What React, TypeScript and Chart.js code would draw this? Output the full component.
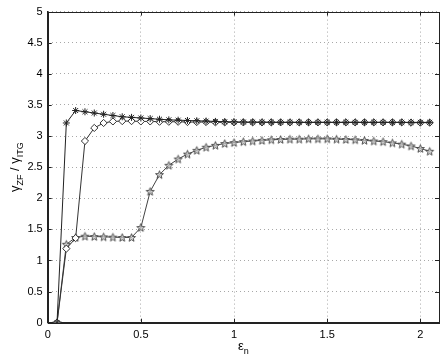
import React, { useEffect, useRef } from "react";
import { Chart, registerables } from "chart.js";

Chart.register(...registerables);

const epsN = [
  0.05, 0.1, 0.15, 0.2, 0.25, 0.3, 0.35, 0.4, 0.45, 0.5,
  0.55, 0.6, 0.65, 0.7, 0.75, 0.8, 0.85, 0.9, 0.95, 1.0,
  1.05, 1.1, 1.15, 1.2, 1.25, 1.3, 1.35, 1.4, 1.45, 1.5,
  1.55, 1.6, 1.65, 1.7, 1.75, 1.8, 1.85, 1.9, 1.95, 2.0,
  2.05,
];

const seriesAsterisk = [
  0, 3.21, 3.41, 3.39, 3.37, 3.35, 3.33, 3.31, 3.3, 3.29,
  3.28, 3.27, 3.26, 3.255, 3.25, 3.245, 3.24, 3.235, 3.23, 3.228,
  3.225, 3.224, 3.223, 3.222, 3.221, 3.22, 3.22, 3.22, 3.22, 3.22,
  3.22, 3.22, 3.22, 3.22, 3.22, 3.22, 3.22, 3.22, 3.22, 3.22,
  3.22,
];

const seriesDiamond = [
  0, 1.19, 1.36, 2.92, 3.13, 3.21, 3.235, 3.24, 3.24, 3.235,
  3.235, 3.23, 3.23, 3.23, 3.225, 3.225, 3.225, 3.22, 3.22, 3.22,
  3.22, 3.22, 3.22, 3.22, 3.22, 3.22, 3.22, 3.22, 3.22, 3.22,
  3.22, 3.22, 3.22, 3.22, 3.22, 3.22, 3.22, 3.22, 3.215, 3.215,
  3.215,
];

const seriesPentagram = [
  0, 1.26, 1.37, 1.39, 1.385, 1.38, 1.375, 1.37, 1.37, 1.53,
  2.11, 2.38, 2.53, 2.63, 2.71, 2.77, 2.82, 2.85, 2.88, 2.895,
  2.91, 2.92, 2.93, 2.94, 2.945, 2.95, 2.95, 2.955, 2.955, 2.955,
  2.95, 2.945, 2.94, 2.93, 2.92, 2.91, 2.89, 2.87, 2.84, 2.8,
  2.755,
];

const xTicks = [0, 0.5, 1, 1.5, 2];
const yTicks = [0, 0.5, 1, 1.5, 2, 2.5, 3, 3.5, 4, 4.5, 5];

const FONT = "'Liberation Sans', Arial, sans-serif";

function makePentagram(): HTMLCanvasElement {
  const c = document.createElement("canvas");
  const s = 11;
  c.width = s;
  c.height = s;
  const ctx = c.getContext("2d")!;
  const cx = s / 2, cy = s / 2 + 0.4;
  const R = 4.2, r = 1.8;
  ctx.beginPath();
  for (let i = 0; i < 10; i++) {
    const rad = i % 2 === 0 ? R : r;
    const a = -Math.PI / 2 + (i * Math.PI) / 5;
    const px = cx + rad * Math.cos(a);
    const py = cy + rad * Math.sin(a);
    if (i === 0) ctx.moveTo(px, py);
    else ctx.lineTo(px, py);
  }
  ctx.closePath();
  ctx.fillStyle = "rgba(200,200,200,0.7)";
  ctx.fill();
  ctx.strokeStyle = "#444";
  ctx.lineWidth = 0.9;
  ctx.stroke();
  return c;
}

const boxPlugin = {
  id: "matlabBox",
  afterDraw(chart: any) {
    const { ctx, chartArea } = chart;
    const { left, right, top, bottom } = chartArea;
    const xs = chart.scales.x;
    const ys = chart.scales.y;
    ctx.save();
    ctx.strokeStyle = "#222";
    ctx.lineWidth = 1;
    ctx.strokeRect(Math.round(left) + 0.5, Math.round(top) + 0.5, Math.round(right - left), Math.round(bottom - top));
    const tl = 4;
    ctx.beginPath();
    for (const v of xTicks) {
      const px = Math.round(xs.getPixelForValue(v)) + 0.5;
      ctx.moveTo(px, bottom);
      ctx.lineTo(px, bottom - tl);
      ctx.moveTo(px, top);
      ctx.lineTo(px, top + tl);
    }
    for (const v of yTicks) {
      const py = Math.round(ys.getPixelForValue(v)) + 0.5;
      ctx.moveTo(left, py);
      ctx.lineTo(left + tl, py);
      ctx.moveTo(right, py);
      ctx.lineTo(right - tl, py);
    }
    ctx.stroke();

    ctx.fillStyle = "#000";
    ctx.textBaseline = "alphabetic";
    const mainF = "13px " + FONT;
    const subF = "9px " + FONT;
    const drawParts = (parts: [string, boolean][], cx: number, cy: number) => {
      let total = 0;
      for (const [t, sub] of parts) {
        ctx.font = sub ? subF : mainF;
        total += ctx.measureText(t).width;
      }
      let x = cx - total / 2;
      for (const [t, sub] of parts) {
        ctx.font = sub ? subF : mainF;
        ctx.fillText(t, x, sub ? cy + 4 : cy);
        x += ctx.measureText(t).width;
      }
    };
    ctx.save();
    ctx.translate(19, (top + bottom) / 2);
    ctx.rotate(-Math.PI / 2);
    drawParts(
      [
        ["\u03b3", false],
        ["ZF", true],
        [" / ", false],
        ["\u03b3", false],
        ["ITG", true],
      ],
      0,
      0
    );
    ctx.restore();
    drawParts(
      [
        ["\u03b5", false],
        ["n", true],
      ],
      (left + right) / 2,
      350
    );
    ctx.restore();
  },
};

export default function App() {
  const ref = useRef<HTMLCanvasElement>(null);
  useEffect(() => {
    if (!ref.current) return;
    const pent = makePentagram();
    const toPts = (ys: number[]) => epsN.map((x, i) => ({ x, y: ys[i] }));
    const chart = new Chart(ref.current, {
      type: "line",
      data: {
        datasets: [
          {
            label: "asterisk",
            data: toPts(seriesAsterisk),
            borderColor: "#222",
            borderWidth: 1,
            pointStyle: "star",
            pointRadius: 3.5,
            pointBorderColor: "#222",
            pointBorderWidth: 1,
            tension: 0,
            order: 0,
          },
          {
            label: "diamond",
            data: toPts(seriesDiamond),
            borderColor: "#333",
            borderWidth: 1,
            pointStyle: "rectRot",
            pointRadius: 3.6,
            pointBackgroundColor: "#fff",
            pointBorderColor: "#333",
            pointBorderWidth: 1,
            tension: 0,
            order: 1,
          },
          {
            label: "lower",
            data: toPts(seriesPentagram),
            borderColor: "#444",
            borderWidth: 1,
            pointStyle: pent as any,
            pointRadius: 5,
            tension: 0,
            order: 2,
          },
        ],
      },
      plugins: [boxPlugin],
      options: {
        animation: false,
        responsive: false,
        maintainAspectRatio: false,
        layout: { padding: { top: 11, right: 3, left: 0, bottom: 0 } },
        plugins: { legend: { display: false }, tooltip: { enabled: false } },
        scales: {
          x: {
            type: "linear",
            min: 0,
            max: 2.1,
            afterBuildTicks: (s: any) => {
              s.ticks = xTicks.map((v) => ({ value: v }));
            },
            afterFit: (s: any) => {
              s.height = 37.3;
            },
            grid: {
              color: "#a8a8a8",
              drawTicks: false,
              lineWidth: 1,
            },
            border: { display: true, color: "#222", dash: [1, 3] },
            ticks: {
              padding: 6,
              color: "#000",
              font: { family: FONT, size: 11 },
              maxRotation: 0,
              callback: (v: any) => String(v),
            },
          },
          y: {
            type: "linear",
            min: 0,
            max: 5,
            afterBuildTicks: (s: any) => {
              s.ticks = yTicks.map((v) => ({ value: v }));
            },
            afterFit: (s: any) => {
              s.width = 47.7;
            },
            grid: {
              color: "#a8a8a8",
              drawTicks: false,
              lineWidth: 1,
            },
            border: { display: true, color: "#222", dash: [1, 3] },
            ticks: {
              padding: 5,
              color: "#000",
              font: { family: FONT, size: 11 },
              callback: (v: any) => String(v),
            },
          },
        },
      },
    } as any);
    return () => chart.destroy();
  }, []);
  return (
    <div style={{ position: "fixed", left: 0, top: 0, width: 445, height: 360, background: "#fff" }}>
      <canvas ref={ref} width={445} height={360} style={{ width: 445, height: 360 }} />
    </div>
  );
}
